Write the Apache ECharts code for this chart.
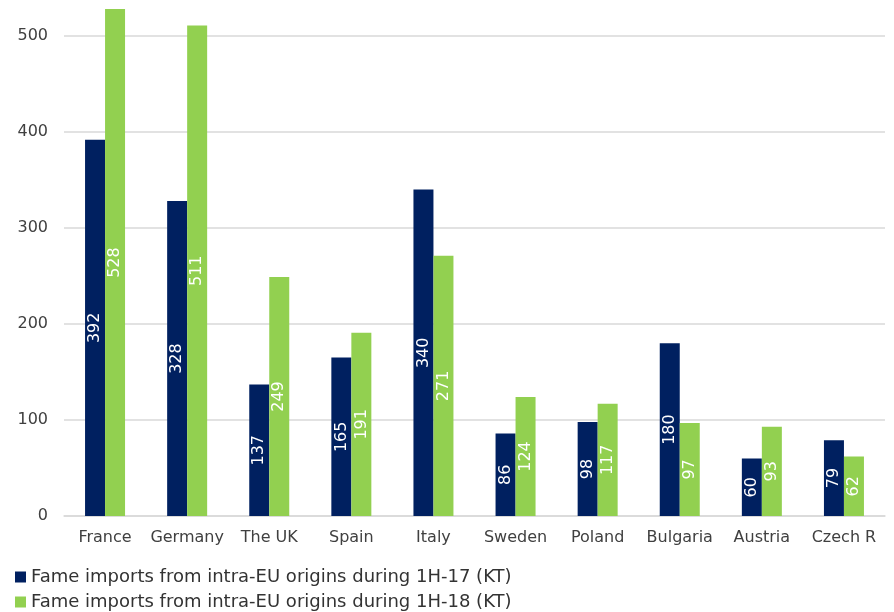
<!DOCTYPE html>
<html><head><meta charset="utf-8">
<script src="https://cdn.jsdelivr.net/npm/echarts@6/dist/echarts.min.js"></script>
<style>html,body{margin:0;padding:0;background:#fff}#c{width:894px;height:612px}</style>
</head><body><div id="c"></div>
<script>
const categories = ["France","Germany","The UK","Spain","Italy","Sweden","Poland","Bulgaria","Austria","Czech R"];
const series17 = [392,328,137,165,340,86,98,180,60,79];
const series18 = [528,511,249,191,271,124,117,97,93,62];
const name17 = "Fame imports from intra-EU origins during 1H-17 (KT)";
const name18 = "Fame imports from intra-EU origins during 1H-18 (KT)";
const FONT = "DejaVu Sans";
const chart = echarts.init(document.getElementById('c'));
const lbl = {show:true, position:'inside', rotate:90, color:'#fff', fontSize:16, fontFamily:FONT};
const legendBase = {orient:'horizontal', left:10, itemWidth:11, itemHeight:11, itemGap:4, icon:'rect',
    textStyle:{fontFamily:FONT, fontSize:18, color:'#333'}};
chart.setOption({
  animation:false,
  grid:{left:64, right:9, top:0, bottom:96},
  legend:[
    Object.assign({}, legendBase, {top:563, data:[name17]}),
    Object.assign({}, legendBase, {top:588, data:[name18]})
  ],
  xAxis:{type:'category', data:categories, axisTick:{show:false},
    axisLine:{lineStyle:{color:'#d9d9d9', width:1.5}},
    axisLabel:{fontFamily:FONT, fontSize:16, color:'#404040', margin:14, interval:0}},
  yAxis:{type:'value', min:0, max:537.5, interval:100,
    axisLine:{show:false}, axisTick:{show:false},
    splitLine:{showMaxLine:false, lineStyle:{color:'#d9d9d9', width:1.5}},
    axisLabel:{showMaxLabel:false, fontFamily:FONT, fontSize:16, color:'#404040', margin:16}},
  series:[
    {name:name17, type:'bar', data:series17, barWidth:20, barGap:'0%', itemStyle:{color:'#002060'}, label:lbl},
    {name:name18, type:'bar', data:series18, barWidth:20, barGap:'0%', itemStyle:{color:'#92D050'}, label:lbl}
  ]
});
</script></body></html>
